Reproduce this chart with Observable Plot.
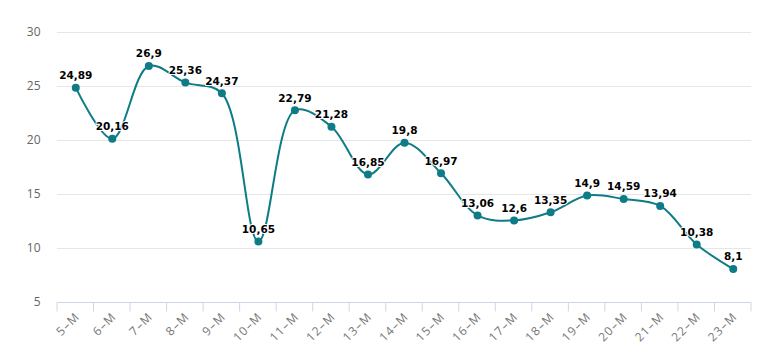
<!DOCTYPE html>
<html><head><meta charset="utf-8">
<script src="https://cdn.jsdelivr.net/npm/d3@7"></script>
<script src="https://cdn.jsdelivr.net/npm/@observablehq/plot@0.6"></script>
<style>body{margin:0;background:#fff}</style>
</head><body><div id="chart"></div>
<script>
const categories = ["5–M","6–M","7–M","8–M","9–M","10–M","11–M","12–M","13–M","14–M","15–M","16–M","17–M","18–M","19–M","20–M","21–M","22–M","23–M"];
const values = [24.89,20.16,26.9,25.36,24.37,10.65,22.79,21.28,16.85,19.8,16.97,13.06,12.6,13.35,14.9,14.59,13.94,10.38,8.1];
const yTicks = [5,10,15,20,25,30];
const data = categories.map((c,i)=>({cat:c, v:values[i], label:String(values[i]).replace(".", ",")}));
const font = "'Open Sans', sans-serif";
const chart = Plot.plot({
  width:768, height:357,
  marginTop:32, marginBottom:55, marginLeft:57, marginRight:17,
  style:{fontFamily:font, fontSize:"11px", color:"#666", background:"#fff"},
  x:{type:"point", domain:categories, padding:0.5, round:false, label:null},
  y:{domain:[5,30], label:null},
  marks:[
    Plot.ruleY(yTicks.filter(t=>t>5), {stroke:"#e6e6e6", strokeWidth:1}),
    Plot.axisY({ticks:yTicks, tickSize:0, tickPadding:17, fill:"#666", fontSize:12}),
    Plot.axisX({ticks:[], tickSize:0}),
    Plot.ruleY([5], {stroke:"#ccd6eb", strokeWidth:1, render:(idx, scales, values, dims, ctx, next)=>{
      const node = next(idx, scales, values, dims, ctx);
      const x = scales.x;
      const step = x(categories[1]) - x(categories[0]);
      const yb = scales.y(5);
      const g = d3.select(node);
      for (let i=0;i<=categories.length;i++){
        const px = (i<categories.length ? x(categories[i]) - step/2 : x(categories[categories.length-1]) + step/2);
        g.append("line").attr("x1",px).attr("x2",px).attr("y1",yb).attr("y2",yb+9).attr("stroke","#ccd6eb");
      }
      return node;
    }}),
    Plot.text(data, {x:"cat", y:()=>5, text:"cat", rotate:-45, textAnchor:"end", dy:12, dx:2, fill:"#777", fontSize:12, render:(idx, scales, values, dims, ctx, next)=>{
      const node = next(idx, scales, values, dims, ctx);
      d3.select(node).selectAll("text").style("letter-spacing","1.2px");
      return node;
    }}),
    Plot.line(data, {x:"cat", y:"v", stroke:"#0e7c86", strokeWidth:2, curve:"catmull-rom"}),
    Plot.dot(data, {x:"cat", y:"v", r:4, fill:"#0e7c86", stroke:"none"}),
    Plot.text(data, {x:"cat", y:"v", text:"label", dy:-12, fill:"#000", fontWeight:"bold", fontSize:10.5, fontFamily:"'DejaVu Sans', Verdana, sans-serif", stroke:"#fff", strokeWidth:2})
  ]
});
document.getElementById("chart").append(chart);
</script></body></html>
